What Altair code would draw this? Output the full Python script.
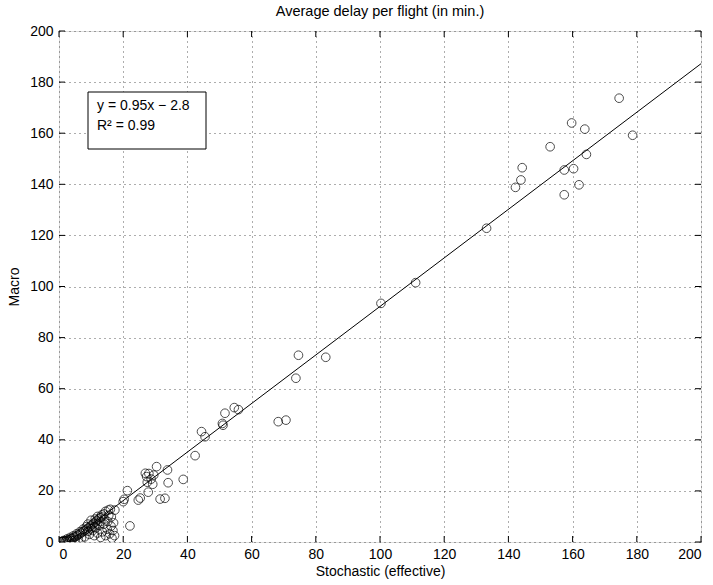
import altair as alt
import pandas as pd

# --- data ---
stoch = [174.5, 159.7, 163.8, 178.7, 153.0, 164.3, 144.3, 157.4, 160.3, 143.9, 142.2, 162.0, 157.4, 133.2,
         111.1, 100.3, 74.6, 83.1, 73.8, 70.7, 68.3, 54.6, 55.9, 51.7, 50.9, 51.1, 44.4, 45.5,
         42.4, 38.7, 34.0, 33.8, 30.4, 33.0, 31.5, 27.8, 28.0, 27.3, 28.7, 27.5, 29.2, 26.9, 29.5,
         24.7, 25.3, 21.3, 20.3, 20.0, 22.1, 17.4, 15.4, 13.3,
         0.3, 0.8, 1.3, 1.8, 2.3, 2.8, 3.3, 3.8, 4.3, 4.8, 5.3, 5.8, 6.3, 6.8, 7.3, 7.8, 8.3, 8.8,
         9.3, 9.8, 10.3, 10.8, 11.3, 11.8, 12.3, 12.8, 13.3, 14.0, 14.5, 16.0,
         9.5, 10.5, 11.0, 11.5, 12.0, 12.5, 13.0, 13.5, 14.0, 14.5, 15.0, 15.2, 15.8, 16.2, 16.5,
         16.8, 17.0, 17.3, 8.0, 6.0, 5.0, 7.0, 4.0, 3.0, 2.0, 1.0, 11.3, 10.0, 12.0, 9.0,
         1.5, 2.5, 3.5, 4.5, 5.5, 6.5, 7.5, 8.5, 9.0, 10.0, 11.0, 12.0, 13.0, 14.2, 15.5, 16.3]
macro = [173.7, 164.0, 161.6, 159.2, 154.7, 151.7, 146.5, 145.6, 146.1, 141.7, 138.8, 139.8, 135.9, 122.8,
         101.5, 93.4, 73.1, 72.3, 64.1, 47.7, 47.1, 52.6, 51.8, 50.4, 46.4, 45.7, 43.2, 41.2,
         33.8, 24.5, 23.2, 28.2, 29.5, 17.1, 16.8, 19.5, 26.8, 25.6, 24.6, 23.4, 22.6, 26.9, 26.2,
         16.4, 17.2, 20.1, 16.7, 15.8, 6.3, 12.5, 12.5, 10.6,
         0.1, 0.2, 0.3, 0.5, 0.6, 0.8, 1.0, 1.3, 1.5, 1.9, 2.2, 2.6, 3.0, 3.4, 3.9, 4.3, 4.7, 5.2,
         5.7, 6.2, 6.8, 7.3, 7.8, 8.4, 9.0, 9.5, 9.8, 11.0, 12.0, 12.8,
         3.0, 4.5, 2.5, 5.5, 3.5, 6.5, 1.8, 4.0, 7.0, 2.5, 5.0, 8.0, 3.2, 6.2, 1.5,
         4.5, 7.5, 2.5, 2.0, 1.0, 0.8, 1.5, 0.5, 0.3, 0.2, 0.1, 9.0, 8.5, 10.0, 7.0,
         0.6, 1.2, 1.8, 2.4, 3.2, 4.0, 5.0, 6.0, 4.2, 5.2, 6.0, 7.2, 8.0, 9.0, 10.5, 9.8]

fit_x = [0, 200]
slope, intercept = 0.95, -2.8
ticks = [0, 20, 40, 60, 80, 100, 120, 140, 160, 180, 200]
annot = ["y = 0.95x \u2212 2.8", "R\u00b2 = 0.99"]

W, H = 642, 511
FONT = "Liberation Sans"

pts = pd.DataFrame({"x": stoch, "y": macro})
fit = pd.DataFrame({"x": fit_x, "y": [slope * v + intercept for v in fit_x]})
tk = pd.DataFrame({"t": ticks})

xs = alt.Scale(domain=[0, 200], nice=False, zero=False)
ys = alt.Scale(domain=[0, 200], nice=False, zero=False)

grid = dict(grid=True, gridColor="#333", gridDash=[1, 4], gridWidth=1, gridOpacity=0.8,
            ticks=False, domain=False, values=ticks, labelFont=FONT, labelFontSize=14,
            labelColor="black", titleFont=FONT, titleFontSize=14, titleFontWeight="normal",
            titleColor="black")

points = alt.Chart(pts).mark_point(shape="circle", filled=False, size=75, color="black",
                                   strokeWidth=1, clip=True).encode(
    x=alt.X("x:Q", scale=xs, title="Stochastic (effective)",
            axis=alt.Axis(labelPadding=5, titlePadding=3, **grid)),
    y=alt.Y("y:Q", scale=ys, title="Macro",
            axis=alt.Axis(labelPadding=6, titlePadding=8, **grid)),
)

line = alt.Chart(fit).mark_line(color="black", strokeWidth=1, clip=True).encode(
    x=alt.X("x:Q", scale=xs), y=alt.Y("y:Q", scale=ys))

tb = alt.Chart(tk).mark_rule(color="black", strokeWidth=1).encode(
    x=alt.X("t:Q", scale=xs), y=alt.value(H), y2=alt.value(H - 6))
tt = alt.Chart(tk).mark_rule(color="black", strokeWidth=1).encode(
    x=alt.X("t:Q", scale=xs), y=alt.value(0), y2=alt.value(6))
tl = alt.Chart(tk).mark_rule(color="black", strokeWidth=1).encode(
    y=alt.Y("t:Q", scale=ys), x=alt.value(0), x2=alt.value(6))
tr = alt.Chart(tk).mark_rule(color="black", strokeWidth=1).encode(
    y=alt.Y("t:Q", scale=ys), x=alt.value(W), x2=alt.value(W - 6))

box = alt.Chart(pd.DataFrame({"a": [0]})).mark_rect(fill="white", stroke="black", strokeWidth=1).encode(
    x=alt.value(29), x2=alt.value(147), y=alt.value(61), y2=alt.value(118))

txt1 = alt.Chart(pd.DataFrame({"label": [annot[0]]})).mark_text(
    align="left", baseline="middle", font=FONT, fontSize=14, color="black").encode(
    x=alt.value(38), y=alt.value(75), text="label:N")
txt2 = alt.Chart(pd.DataFrame({"label": [annot[1]]})).mark_text(
    align="left", baseline="middle", font=FONT, fontSize=14, color="black").encode(
    x=alt.value(38), y=alt.value(95), text="label:N")

chart = alt.layer(points, line, tb, tt, tl, tr, box, txt1, txt2).properties(
    width=W, height=H,
    title=alt.TitleParams("Average delay per flight (in min.)", font=FONT, fontSize=14.5,
                          fontWeight="normal", color="black", offset=5, anchor="middle"),
    autosize=alt.AutoSizeParams(type="none"),
    padding={"left": 59, "top": 31, "right": 12, "bottom": 43},
).configure_view(stroke="black", strokeWidth=1).configure(background="white")

chart.save("out.html", embed_options={"renderer": "svg", "actions": False})
